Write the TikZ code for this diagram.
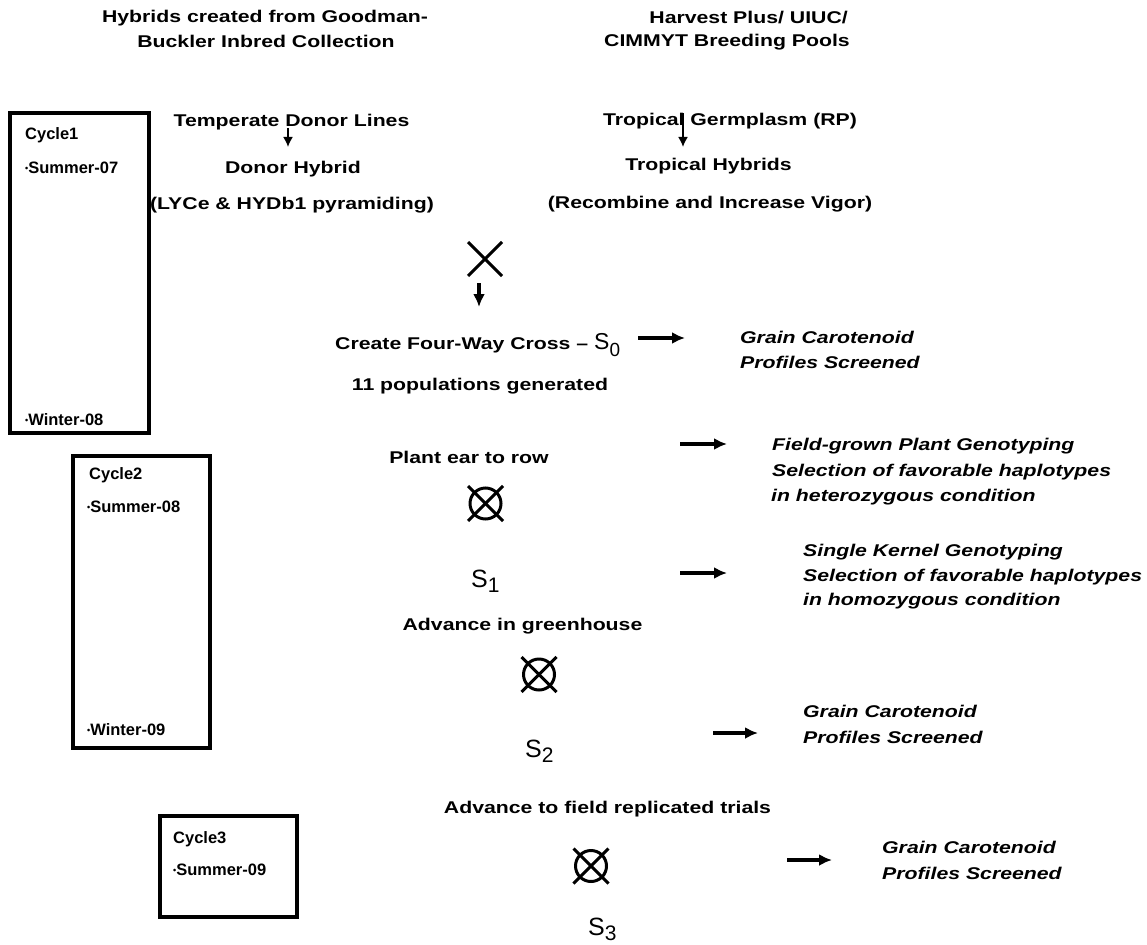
\documentclass[tikz,border=0pt]{standalone}
\usepackage{fontspec}
\setmainfont{Liberation Sans}[FakeStretch=1.25]
\newfontfamily\plainsans{Liberation Sans}
\usetikzlibrary{arrows.meta,calc}
\newcommand{\dotb}{{\fontsize{9}{9}\selectfont\raisebox{1.5pt}{•}}}
\begin{document}
\begin{tikzpicture}[x=1pt,y=-1pt,
  txt/.style={inner sep=0pt, font=\fontsize{17}{20}\selectfont\bfseries, anchor=base},
  itx/.style={inner sep=0pt, font=\fontsize{17}{20}\selectfont\bfseries\itshape, anchor=base west},
  cyc/.style={inner sep=0pt, font=\plainsans\fontsize{16.5}{20}\selectfont\bfseries, anchor=base west},
  cbox/.style={draw, line width=3.2pt},
  harr/.style={line width=3.2pt, -{Latex[length=13pt,width=12pt]}},
  varr/.style={line width=1.8pt, -{Latex[length=10pt,width=10pt]}},
  xarr/.style={line width=3.2pt, -{Latex[length=13pt,width=12pt]}},
  sym/.style={line width=3pt},
  ess/.style={inner sep=0pt, anchor=base west, font=\plainsans\fontsize{25}{25}\selectfont}]
\useasboundingbox (0,0) rectangle (1147,944);

% headers
\node[txt] (hl1) at (265,23) {Hybrids created from Goodman-};
\node[txt] (hl2) at (266,48) {Buckler Inbred Collection};
\node[txt, anchor=base east] (hr1) at (848,24) {Harvest Plus/ UIUC/};
\node[txt, anchor=base east] (hr2) at (850,47) {CIMMYT Breeding Pools};

% cycle boxes
\draw[cbox] (10,113) rectangle (149,433);
\node[cyc] (c1a) at (25,140) {Cycle1};
\node[cyc] (c1b) at (25,173) {\dotb Summer-07};
\node[cyc] (c1c) at (25,425) {\dotb Winter-08};

\draw[cbox] (73,456) rectangle (210,748);
\node[cyc] (c2a) at (89,479) {Cycle2};
\node[cyc] (c2b) at (87,512) {\dotb Summer-08};
\node[cyc] (c2c) at (87,735) {\dotb Winter-09};

\draw[cbox] (160,816) rectangle (297,917);
\node[cyc] (c3a) at (173,843) {Cycle3};
\node[cyc] (c3b) at (173,875) {\dotb Summer-09};

% left column
\node[txt] (tdl) at (291.5,127) {Temperate Donor Lines};
\node[txt] (dh) at (293,174) {Donor Hybrid};
\node[txt] (lyc) at (292,209) {(LYCe \& HYDb1 pyramiding)};
\coordinate (t1s) at (288,128);
\coordinate (t1e) at (288,147);
\draw[varr] (t1s) -- (t1e);

% right column
\node[txt] (tg) at (730,126) {Tropical Germplasm (RP)};
\node[txt] (th) at (708.5,171) {Tropical Hybrids};
\node[txt] (rec) at (710,208) {(Recombine and Increase Vigor)};
\coordinate (t2s) at (683,113);
\coordinate (t2e) at (683,147);
\draw[varr] (t2s) -- (t2e);

% cross
\coordinate (xc) at (485,259);
\draw[sym] ($(xc)+(-17,-17)$) -- ($(xc)+(17,17)$);
\draw[sym] ($(xc)+(-17,17)$) -- ($(xc)+(17,-17)$);
\coordinate (xa1) at (479,283);
\coordinate (xa2) at (479,307);
\draw[xarr] (xa1) -- (xa2);

% S0
\node[txt, anchor=base west] (create) at (335,349) {Create Four-Way Cross \textendash\ {\plainsans\mdseries\fontsize{23}{23}\selectfont S\raisebox{-7pt}{\fontsize{19}{19}\selectfont 0}}};
\node[txt] (pop) at (480,390) {11 populations generated};
\coordinate (a1s) at (638,338);
\coordinate (a1e) at (685,338);
\draw[harr] (a1s) -- (a1e);
\node[itx] (g1a) at (740,343) {Grain Carotenoid};
\node[itx] (g1b) at (740,368) {Profiles Screened};

% S1
\node[txt] (pe) at (469,463) {Plant ear to row};
\coordinate (o1) at (485.5,503.5);
\draw[sym] (o1) circle (15.5);
\draw[sym] ($(o1)+(-17.5,-17.5)$) -- ($(o1)+(17.5,17.5)$);
\draw[sym] ($(o1)+(-17.5,17.5)$) -- ($(o1)+(17.5,-17.5)$);
\node[ess] (s1) at (471,587) {S\raisebox{-5pt}{\fontsize{21}{21}\selectfont 1}};
\coordinate (a2s) at (680,444);
\coordinate (a2e) at (727,444);
\draw[harr] (a2s) -- (a2e);
\node[itx] (g2a) at (772,450) {Field-grown Plant Genotyping};
\node[itx] (g2b) at (772,476) {Selection of favorable haplotypes};
\node[itx] (g2c) at (771,501) {in heterozygous condition};
\coordinate (a3s) at (680,573);
\coordinate (a3e) at (727,573);
\draw[harr] (a3s) -- (a3e);
\node[itx] (g3a) at (803,556) {Single Kernel Genotyping};
\node[itx] (g3b) at (803,581) {Selection of favorable haplotypes};
\node[itx] (g3c) at (803,605) {in homozygous condition};

% S2
\node[txt] (ag) at (522.5,630) {Advance in greenhouse};
\coordinate (o2) at (539,674.5);
\draw[sym] (o2) circle (15.5);
\draw[sym] ($(o2)+(-17.5,-17.5)$) -- ($(o2)+(17.5,17.5)$);
\draw[sym] ($(o2)+(-17.5,17.5)$) -- ($(o2)+(17.5,-17.5)$);
\node[ess] (s2) at (525,757) {S\raisebox{-5pt}{\fontsize{21}{21}\selectfont 2}};
\coordinate (a4s) at (713,733);
\coordinate (a4e) at (758,733);
\draw[harr] (a4s) -- (a4e);
\node[itx] (g4a) at (803,717) {Grain Carotenoid};
\node[itx] (g4b) at (803,743) {Profiles Screened};

% S3
\node[txt] (af) at (607.5,813) {Advance to field replicated trials};
\coordinate (o3) at (591,866);
\draw[sym] (o3) circle (15.5);
\draw[sym] ($(o3)+(-17.5,-17.5)$) -- ($(o3)+(17.5,17.5)$);
\draw[sym] ($(o3)+(-17.5,17.5)$) -- ($(o3)+(17.5,-17.5)$);
\node[ess] (s3) at (588,935) {S\raisebox{-5pt}{\fontsize{21}{21}\selectfont 3}};
\coordinate (a5s) at (787,860);
\coordinate (a5e) at (832,860);
\draw[harr] (a5s) -- (a5e);
\node[itx] (g5a) at (882,853) {Grain Carotenoid};
\node[itx] (g5b) at (882,879) {Profiles Screened};
\end{tikzpicture}
\end{document}
